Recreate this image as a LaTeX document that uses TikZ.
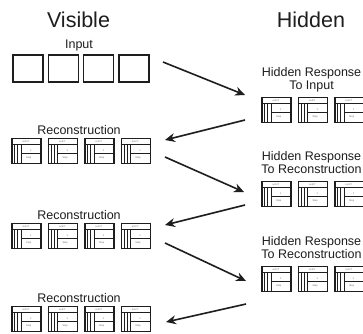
\documentclass[tikz,border=0pt]{standalone}
\usepackage{fontspec}
\setmainfont{Liberation Sans}
\usetikzlibrary{arrows.meta,positioning,calc}

\definecolor{ink}{HTML}{1E1E1E}
\definecolor{faint}{HTML}{6A6A6A}

\begin{document}
\begin{tikzpicture}[x=1pt, y=-1pt,
    heading/.style={font=\fontsize{21.5}{21.5}\selectfont, text=ink},
    caption/.style={font=\fontsize{12.5}{13}\selectfont, align=center, text=ink, inner sep=0pt},
    cell/.style={draw=ink, line width=1.3pt, minimum width=30pt, minimum height=27pt, inner sep=0pt},
    frame/.style={draw=ink, line width=1.4pt, minimum width=29pt, minimum height=25pt, inner sep=0pt},
    tiny/.style={font=\fontsize{2.5}{2.5}\selectfont, text=faint, inner sep=0pt},
    arrow/.style={-{Stealth[length=10pt, width=9pt]}, line width=1.6pt, draw=ink}
  ]
    \fill[white] (0,0) rectangle (363,333);
    \useasboundingbox (0,0) rectangle (363,333);

    \node[heading] (vis) at (78.5,20) {Visible};
    \node[heading] (hid) at (311,20) {Hidden};

    % visible side
    \node[caption] (inlbl) at (79,45) {Input};
    \node[cell] (in1) at (28,68.5) {};
    \node[cell, right=4pt of in1] (in2) {};
    \node[cell, right=4pt of in2] (in3) {};
    \node[cell, right=4pt of in3] (in4) {};

    \node[caption] (rec1lbl) at (79,130) {Reconstruction};
    \node[frame] (r1a) at (26.5,151) {};
    \node[frame, right=6pt of r1a] (r1b) {};
    \node[frame, right=6pt of r1b] (r1c) {};
    \node[frame, right=6pt of r1c] (r1d) {};

    \node[caption] (rec2lbl) at (79,215) {Reconstruction};
    \node[frame] (r2a) at (26.5,236) {};
    \node[frame, right=6pt of r2a] (r2b) {};
    \node[frame, right=6pt of r2b] (r2c) {};
    \node[frame, right=6pt of r2c] (r2d) {};

    \node[caption] (rec3lbl) at (79,298) {Reconstruction};
    \node[frame] (r3a) at (26.5,319) {};
    \node[frame, right=6pt of r3a] (r3b) {};
    \node[frame, right=6pt of r3b] (r3c) {};
    \node[frame, right=6pt of r3c] (r3d) {};

    % hidden side
    \node[caption] (hid1lbl) at (311.5,80) {Hidden Response\\To Input};
    \node[frame] (h1a) at (276.5,110) {};
    \node[frame, right=6pt of h1a] (h1b) {};
    \node[frame, right=6pt of h1b] (h1c) {};

    \node[caption] (hid2lbl) at (311.5,163) {Hidden Response\\To Reconstruction};
    \node[frame] (h2a) at (276.5,194) {};
    \node[frame, right=6pt of h2a] (h2b) {};
    \node[frame, right=6pt of h2b] (h2c) {};

    \node[caption] (hid3lbl) at (311.5,248) {Hidden Response\\To Reconstruction};
    \node[frame] (h3a) at (276.5,279) {};
    \node[frame, right=6pt of h3a] (h3b) {};
    \node[frame, right=6pt of h3b] (h3c) {};

    % inner ruling of every small frame
    \foreach \b in {r1a,r1b,r1c,r1d,r2a,r2b,r2c,r2d,r3a,r3b,r3c,r3d,h1a,h1b,h1c,h2a,h2b,h2c,h3a,h3b,h3c} {
      \begin{scope}[shift={(\b.north west)}]
        \draw[ink, line width=0.9pt] (0,7) -- (29,7)
          (3.5,7) -- (3.5,25) (6.5,7) -- (6.5,25) (10,7) -- (10,25)
          (10,15.5) -- (29,15.5);
        \node[tiny] at (14.5,3.8) {a+b=f};
        \node[tiny] at (19.5,12.5) {1};
        \node[tiny] at (17.5,20) {Step};
      \end{scope}
    }

    % arrow ends
    \coordinate (a1s) at (163,62);  \coordinate (a1e) at (245,95);
    \coordinate (a2s) at (245,120); \coordinate (a2e) at (165,140);
    \coordinate (a3s) at (165,157); \coordinate (a3e) at (244,192);
    \coordinate (a4s) at (245,205); \coordinate (a4e) at (165,225);
    \coordinate (a5s) at (165,243); \coordinate (a5e) at (246,281);
    \coordinate (a6s) at (246,304); \coordinate (a6e) at (166,322);

    \draw[arrow] (a1s) -- (a1e);
    \draw[arrow] (a2s) -- (a2e);
    \draw[arrow] (a3s) -- (a3e);
    \draw[arrow] (a4s) -- (a4e);
    \draw[arrow] (a5s) -- (a5e);
    \draw[arrow] (a6s) -- (a6e);
\end{tikzpicture}
\end{document}
